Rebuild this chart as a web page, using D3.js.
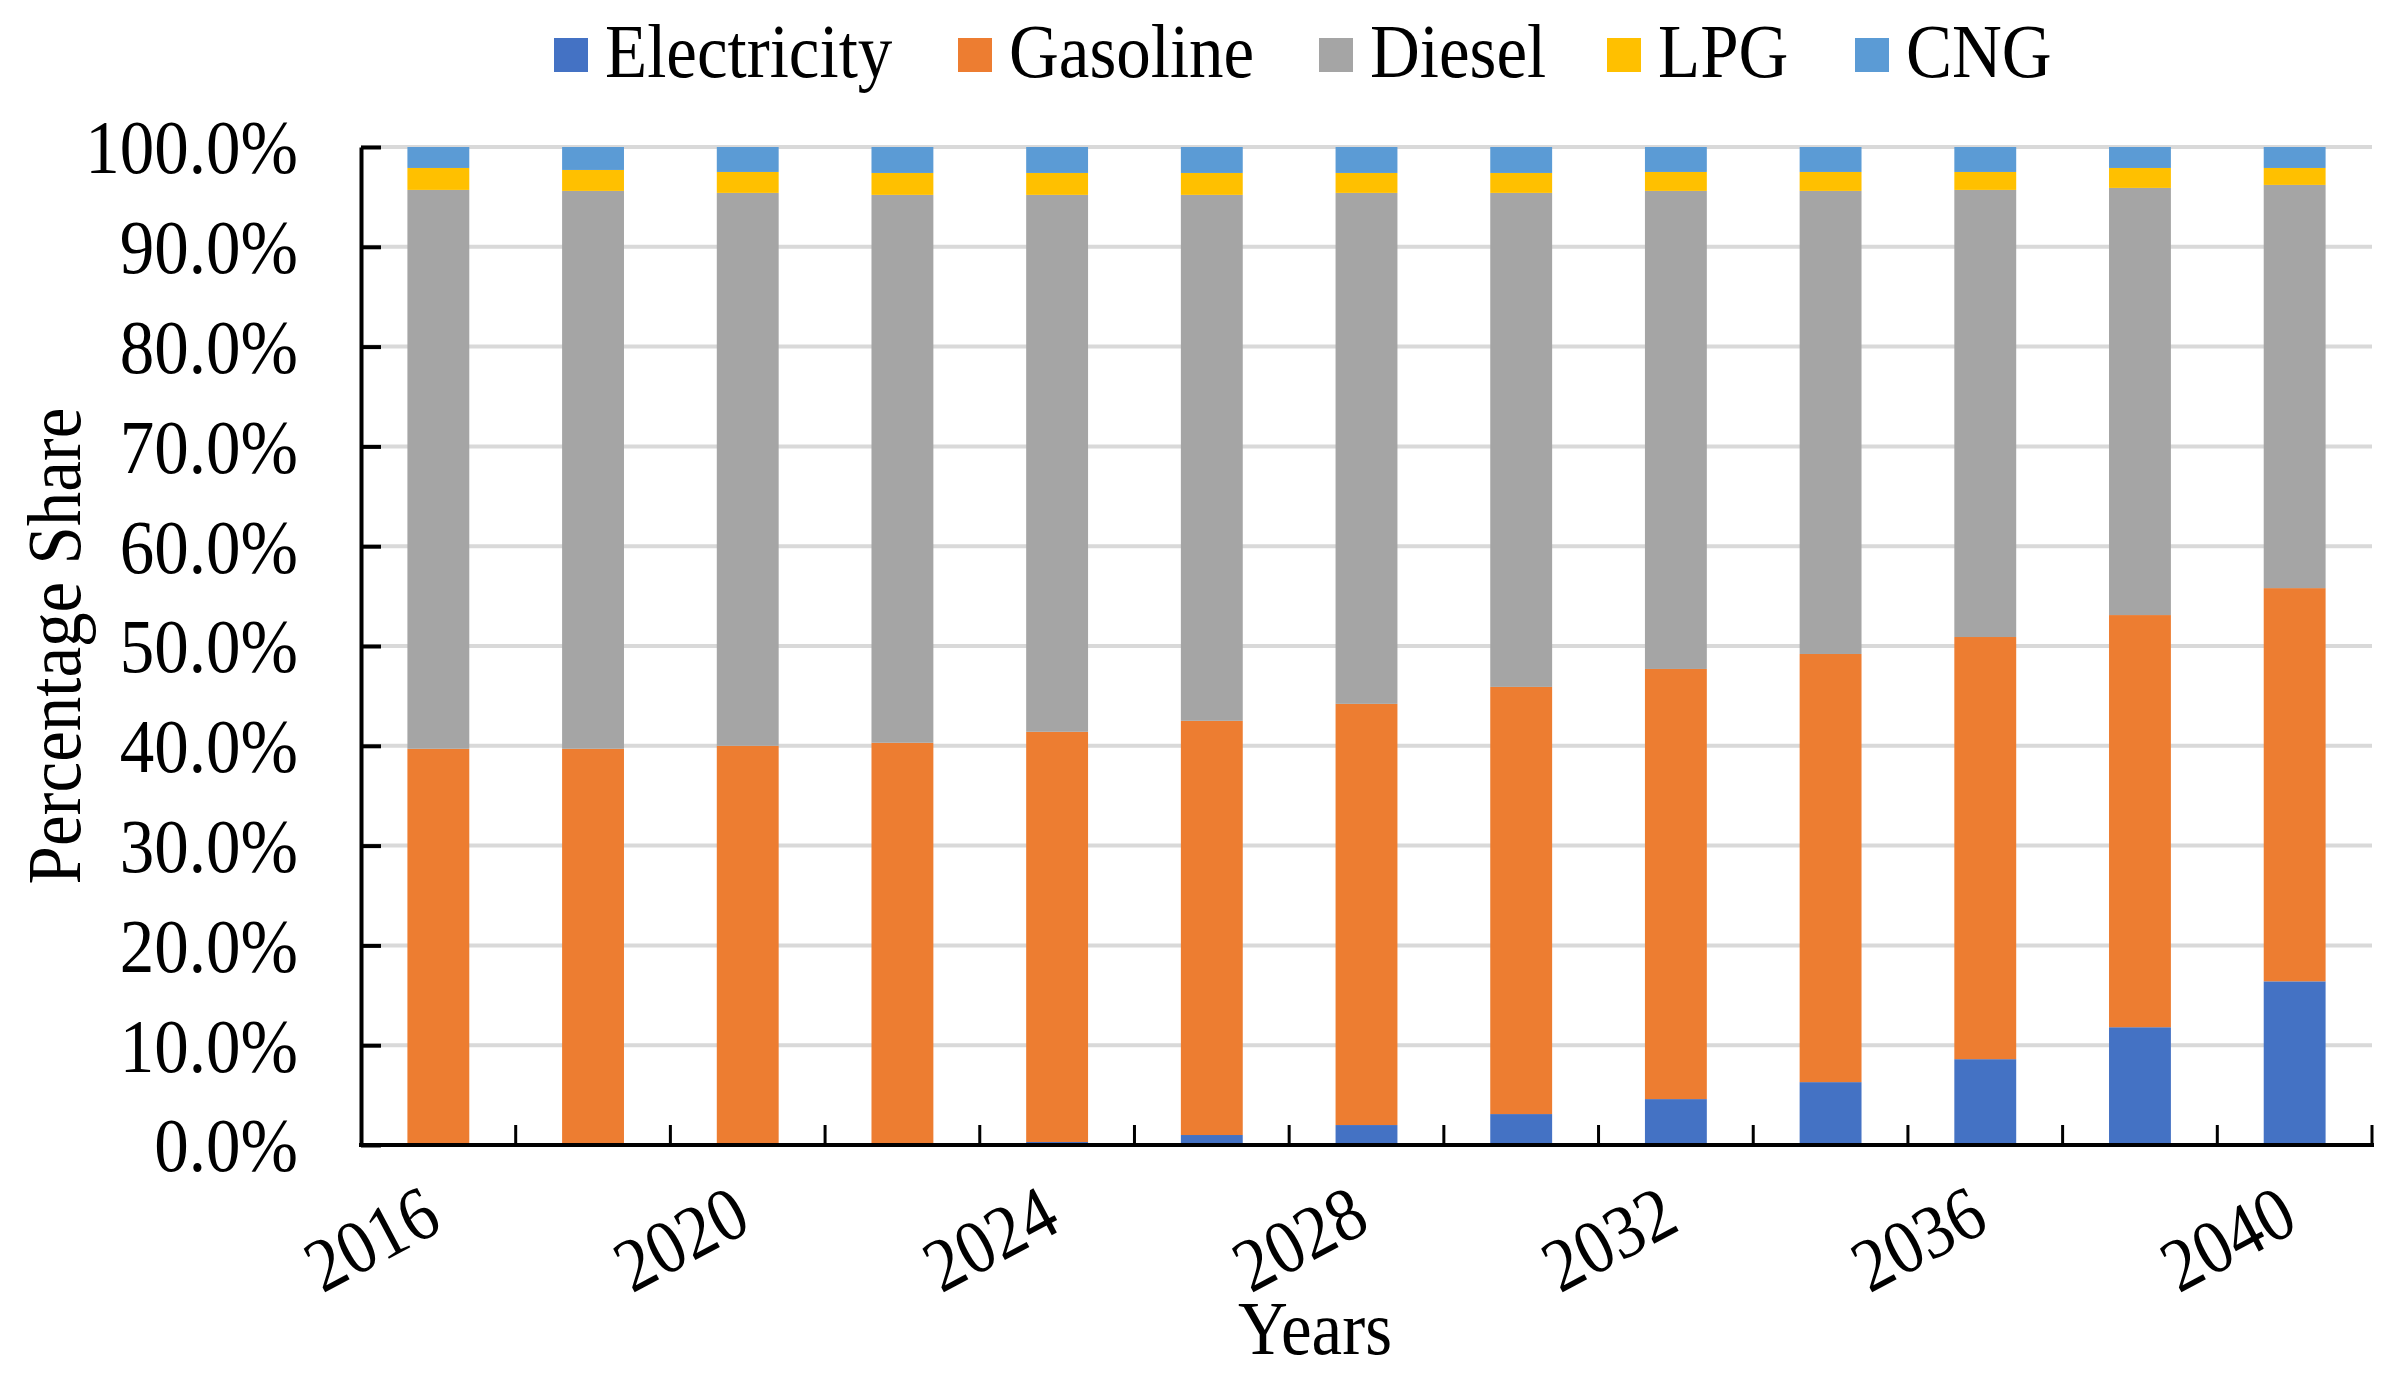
<!DOCTYPE html>
<html>
<head>
<meta charset="utf-8">
<script src="https://cdn.jsdelivr.net/npm/d3@7"></script>
<style>
  body { margin: 0; background: #fff; }
  text { font-family: "Liberation Serif", "Times New Roman", serif; fill: #000; }
</style>
</head>
<body>
<div id="chart"></div>
<script>
// categories and series (percent share)
const years = ["2016","2018","2020","2022","2024","2026","2028","2030","2032","2034","2036","2038","2040"];
const electricity = [0, 0, 0, 0, 0.3, 1.0, 2.0, 3.1, 4.6, 6.3, 8.6, 11.8, 16.4];
const gasoline    = [39.7, 39.7, 40.0, 40.3, 41.1, 41.5, 42.2, 42.8, 43.1, 42.9, 42.3, 41.3, 39.4];
const diesel      = [56.0, 55.9, 55.4, 54.9, 53.8, 52.7, 51.2, 49.5, 47.9, 46.4, 44.8, 42.8, 40.4];
const lpg         = [2.2, 2.1, 2.1, 2.2, 2.2, 2.2, 2.0, 2.0, 1.9, 1.9, 1.8, 2.0, 1.7];
const cng         = [2.1, 2.3, 2.5, 2.6, 2.6, 2.6, 2.6, 2.6, 2.5, 2.5, 2.5, 2.1, 2.1];
const seriesNames = ["Electricity", "Gasoline", "Diesel", "LPG", "CNG"];
const yTicks = [0, 10, 20, 30, 40, 50, 60, 70, 80, 90, 100];
const xLabelYears = ["2016","2020","2024","2028","2032","2036","2040"];

const colors = ["#4472C4", "#ED7D31", "#A5A5A5", "#FFC000", "#5B9BD5"];
const W = 2400, H = 1382;
const margin = {top: 147, right: 28, bottom: 237, left: 361};
const FS = 69;
const STRETCH = "scale(1,1.1)"; // the source type is a bit taller than Liberation Serif
const legendX = [554, 958, 1319, 1607, 1855];

const rows = years.map((y, i) => ({
  year: y,
  Electricity: electricity[i], Gasoline: gasoline[i], Diesel: diesel[i], LPG: lpg[i], CNG: cng[i]
}));
const stacked = d3.stack().keys(seriesNames)(rows);

const svg = d3.select("#chart").append("svg")
  .attr("width", W).attr("height", H);

const x = d3.scaleBand()
  .domain(years)
  .range([margin.left, W - margin.right])
  .paddingInner(0.6)
  .paddingOuter(0.3);
const y = d3.scaleLinear()
  .domain([0, 100])
  .range([H - margin.bottom, margin.top]);

// gridlines
svg.append("g")
  .selectAll("line")
  .data(yTicks.filter(t => t > 0))
  .join("line")
  .attr("x1", margin.left).attr("x2", W - margin.right)
  .attr("y1", d => y(d)).attr("y2", d => y(d))
  .attr("stroke", "#D9D9D9").attr("stroke-width", 4);

// bars
svg.append("g")
  .selectAll("g")
  .data(stacked)
  .join("g")
  .attr("fill", (d, i) => colors[i])
  .selectAll("rect")
  .data(d => d)
  .join("rect")
  .attr("x", d => x(d.data.year))
  .attr("width", x.bandwidth())
  .attr("y", d => y(d[1]))
  .attr("height", d => y(d[0]) - y(d[1]));

// y axis
const yAxis = svg.append("g")
  .attr("transform", "translate(" + margin.left + ",0)")
  .call(d3.axisLeft(y).tickValues(yTicks).tickSizeInner(-20).tickSizeOuter(0)
    .tickFormat(d => d.toFixed(1) + "%"));
yAxis.select(".domain").attr("stroke", "#000").attr("stroke-width", 4);
yAxis.selectAll(".tick line").attr("stroke", "#000").attr("stroke-width", 4);
yAxis.selectAll(".tick text")
  .attr("x", 0).attr("dy", "0.34em")
  .attr("transform", "translate(-63,0) " + STRETCH)
  .style("font-size", FS + "px")
  .style("font-family", "Liberation Serif");

// x axis line and ticks at category boundaries
const x0 = x.range()[0], step = x.step();
svg.append("line")
  .attr("x1", margin.left - 2).attr("x2", W - margin.right + 2)
  .attr("y1", y(0)).attr("y2", y(0))
  .attr("stroke", "#000").attr("stroke-width", 4);
svg.append("g")
  .selectAll("line")
  .data(d3.range(1, years.length + 1))
  .join("line")
  .attr("x1", i => x0 + i * step).attr("x2", i => x0 + i * step)
  .attr("y1", y(0)).attr("y2", y(0) - 20)
  .attr("stroke", "#000").attr("stroke-width", 3);

// x labels (every other year, rotated)
svg.append("g")
  .selectAll("text")
  .data(xLabelYears)
  .join("text")
  .attr("text-anchor", "end")
  .attr("transform", d => "translate(" + (x(d) + x.bandwidth() / 2 + 6) + "," + (y(0) + 84) + ") rotate(-28) " + STRETCH)
  .style("font-size", FS + "px")
  .text(d => d);

// axis titles
svg.append("text")
  .attr("text-anchor", "middle")
  .attr("transform", "translate(80," + ((margin.top + H - margin.bottom) / 2) + ") rotate(-90) " + STRETCH)
  .style("font-size", FS + "px")
  .text("Percentage Share");
svg.append("text")
  .attr("text-anchor", "middle")
  .attr("transform", "translate(1315,1354) " + STRETCH)
  .style("font-size", FS + "px")
  .text("Years");

// legend
const legend = svg.append("g")
  .selectAll("g")
  .data(seriesNames)
  .join("g")
  .attr("transform", (d, i) => "translate(" + legendX[i] + ",0)");
legend.append("rect")
  .attr("y", 38).attr("width", 34).attr("height", 34)
  .attr("fill", (d, i) => colors[i]);
legend.append("text")
  .attr("transform", "translate(51,77) " + STRETCH)
  .style("font-size", FS + "px")
  .text(d => d);
</script>
</body>
</html>
